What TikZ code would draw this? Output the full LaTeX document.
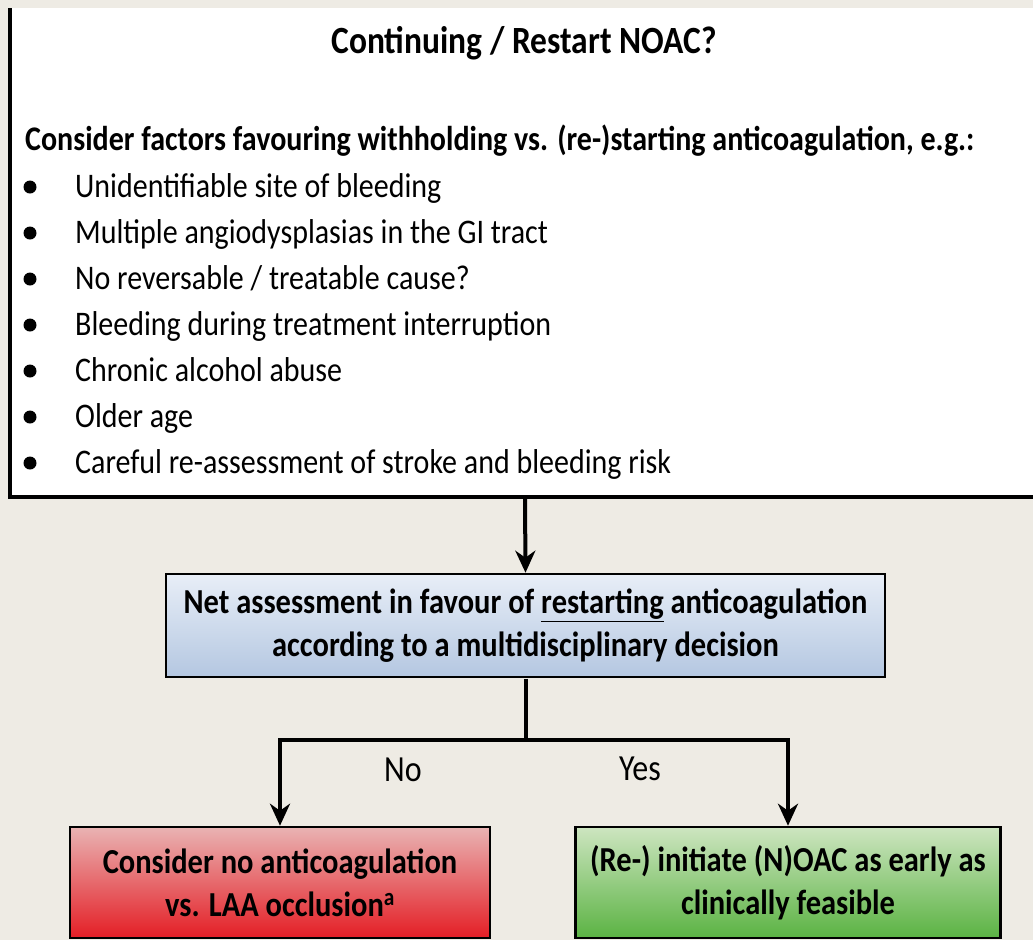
\documentclass[tikz,border=0pt]{standalone}
\usepackage{fontspec}
\setmainfont{Carlito}
\usepackage{tikz}
\usetikzlibrary{arrows.meta}
\definecolor{Canvas}{HTML}{EEEBE4}
\definecolor{BlueTop}{HTML}{E8EEF7}
\definecolor{BlueBot}{HTML}{B4C7E1}
\definecolor{RedTop}{HTML}{E9B3B3}
\definecolor{RedBot}{HTML}{E41E25}
\definecolor{GreenTop}{HTML}{CDE5C0}
\definecolor{GreenBot}{HTML}{5BB343}
\tikzset{
  frame/.style={line width=3.5pt},
  link/.style={line width=4pt},
  arrow/.style={link,-{Stealth[length=22pt,width=20pt,inset=7pt]}},
  decision/.style={draw,line width=2.5pt,align=center,inner sep=0pt,
    font=\bfseries\fontsize{30.5}{37}\selectfont},
  item/.style={anchor=base west,inner sep=0pt,font=\fontsize{30}{36}\selectfont},
  label/.style={anchor=base,inner sep=0pt,font=\fontsize{32}{36}\selectfont},
}

\begin{document}
\begin{tikzpicture}[x=1pt,y=-0.8696pt,yscale=1.15,every node/.append style={transform shape}]
    \fill[Canvas] (0,0) rectangle (1033,940);
    \useasboundingbox (0,0) rectangle (1033,940);

    % top box, cut at the right edge
    \fill[white] (10,8) rectangle (1033,497);
    \draw[frame] (1033,497) -| (10,8);
    \coordinate (topbox) at (525,497);

    \node[anchor=base,inner sep=0pt,font=\bfseries\fontsize{33.5}{40}\selectfont] (title) at (524,53) {Continuing / Restart NOAC?};
    \node[item,font=\bfseries\fontsize{30}{36}\selectfont] (factors) at (25,150) {Consider factors favouring withholding vs. (re-)starting anticoagulation, e.g.:};
    \foreach \txt [count=\i] in {Unidentifiable site of bleeding,
        Multiple angiodysplasias in the GI tract,
        No reversable / treatable cause?,
        Bleeding during treatment interruption,
        Chronic alcohol abuse,
        Older age,
        Careful re-assessment of stroke and bleeding risk} {
      \fill (30,{141+46*\i}) circle (6.5);
      \node[item] (item\i) at (75,{151+46*\i}) {\txt};
    }

    \node[decision,top color=BlueTop,bottom color=BlueBot,minimum width=719pt,minimum height=89.5pt] (net) at (525.5,625.5)
      {Net assessment in favour of \underline{restarting} anticoagulation\\according to a multidisciplinary decision};
    \node[decision,top color=RedTop,bottom color=RedBot,minimum width=420pt,minimum height=96.5pt] (no) at (280,882.5)
      {Consider no anticoagulation\\vs. LAA occlusion\textsuperscript{a}};
    \node[decision,top color=GreenTop,bottom color=GreenBot,minimum width=425pt,minimum height=96.5pt] (yes) at (788,882.5)
      {(Re-) initiate (N)OAC as early as\\clinically feasible};

    \draw[arrow] (topbox) -- (net.north);
    \draw[link] (net.south) -- ++(0,61) coordinate (split);
    \draw[arrow] (split) -| (no.north);
    \draw[arrow] (split) -| (yes.north);

    \node[label] (nolabel) at (403,781) {No};
    \node[label] (yeslabel) at (640,780) {Yes};
\end{tikzpicture}
\end{document}
